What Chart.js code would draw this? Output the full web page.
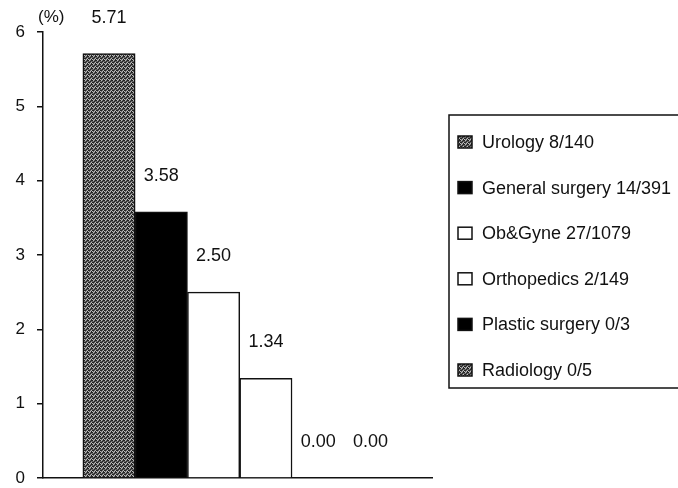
<!DOCTYPE html>
<html>
<head>
<meta charset="utf-8">
<script src="https://cdn.jsdelivr.net/npm/chart.js@4/dist/chart.umd.min.js"></script>
<style>
  html, body { margin: 0; padding: 0; background: #fff; overflow: hidden; }
</style>
</head>
<body>
<canvas id="myChart" width="678" height="488"></canvas>
<script>
const categories = ['Urology 8/140', 'General surgery 14/391', 'Ob&Gyne 27/1079', 'Orthopedics 2/149', 'Plastic surgery 0/3', 'Radiology 0/5'];
const rates = [5.71, 3.58, 2.50, 1.34, 0.00, 0.00];
const yTicks = [0, 1, 2, 3, 4, 5, 6];
const unitLabel = '(%)';

// grey stipple like the scanned hatching
function stipple() {
    const c = document.createElement('canvas');
    c.width = 4; c.height = 4;
    const g = c.getContext('2d');
    g.fillStyle = '#666';
    g.fillRect(0, 0, 4, 4);
    g.fillStyle = '#222';
    [[0, 0], [2, 1], [1, 2], [3, 3], [3, 0], [0, 2]].forEach(p => g.fillRect(p[0], p[1], 1, 1));
    g.fillStyle = '#bbb';
    [[1, 0], [3, 2], [0, 3], [2, 3]].forEach(p => g.fillRect(p[0], p[1], 1, 1));
    return g.createPattern(c, 'repeat');
}
const grey = stipple();
const fills = [grey, '#000', '#fff', '#fff', '#000', grey];

const font = 'Liberation Sans, Arial, sans-serif';

const labelsPlugin = {
    id: 'labels',
    afterDatasetsDraw(chart) {
        const ctx = chart.ctx;
        const meta = chart.getDatasetMeta(0);
        ctx.save();
        ctx.fillStyle = '#111';
        ctx.font = '18px ' + font;
        ctx.textAlign = 'center';
        ctx.textBaseline = 'middle';
        meta.data.forEach((bar, i) => {
            ctx.fillText(rates[i].toFixed(2), bar.x, bar.y - 36);
        });
        ctx.textAlign = 'left';
        ctx.font = '17px ' + font;
        ctx.fillText(unitLabel, 38, 17);

        // legend box
        ctx.lineWidth = 1.5;
        ctx.strokeStyle = '#111';
        ctx.strokeRect(449, 115, 260, 273);
        ctx.font = '18px ' + font;
        categories.forEach((name, i) => {
            const y = 142 + i * 45.6;
            ctx.fillStyle = fills[i];
            ctx.fillRect(458, y - 6, 14, 12);
            ctx.lineWidth = 1.5;
            ctx.strokeRect(458, y - 6, 14, 12);
            ctx.fillStyle = '#111';
            ctx.fillText(name, 482, y + 1);
        });
        ctx.restore();
    }
};

new Chart(document.getElementById('myChart'), {
    type: 'bar',
    data: {
        datasets: [{
            data: rates.map((v, i) => ({ x: i + 1, y: v })),
            backgroundColor: fills,
            borderColor: '#111',
            borderWidth: 1.5,
            barPercentage: 1,
            categoryPercentage: 1
        }]
    },
    options: {
        responsive: false,
        animation: false,
        events: [],
        layout: { padding: { top: 32, right: 246, bottom: 10, left: 0 } },
        plugins: { legend: { display: false }, tooltip: { enabled: false } },
        scales: {
            x: {
                type: 'linear',
                offset: false,
                min: -0.262,
                max: 7.176,
                grid: { display: false },
                ticks: { display: false },
                border: { display: true, color: '#111', width: 1.5 },
                afterFit(s) { s.height = 0; s.paddingLeft = 0; s.paddingRight = 0; }
            },
            y: {
                min: 0,
                max: 6,
                afterBuildTicks(s) { s.ticks = yTicks.map(v => ({ value: v })); },
                grid: { drawOnChartArea: false, drawTicks: true, tickLength: 6, color: '#111', lineWidth: 1.5 },
                border: { display: true, color: '#111', width: 1.5 },
                ticks: { color: '#111', padding: 12, font: { size: 17, family: font } },
                afterFit(s) { s.width = 43; s.paddingTop = 0; s.paddingBottom = 0; }
            }
        }
    },
    plugins: [labelsPlugin]
});
</script>
</body>
</html>
